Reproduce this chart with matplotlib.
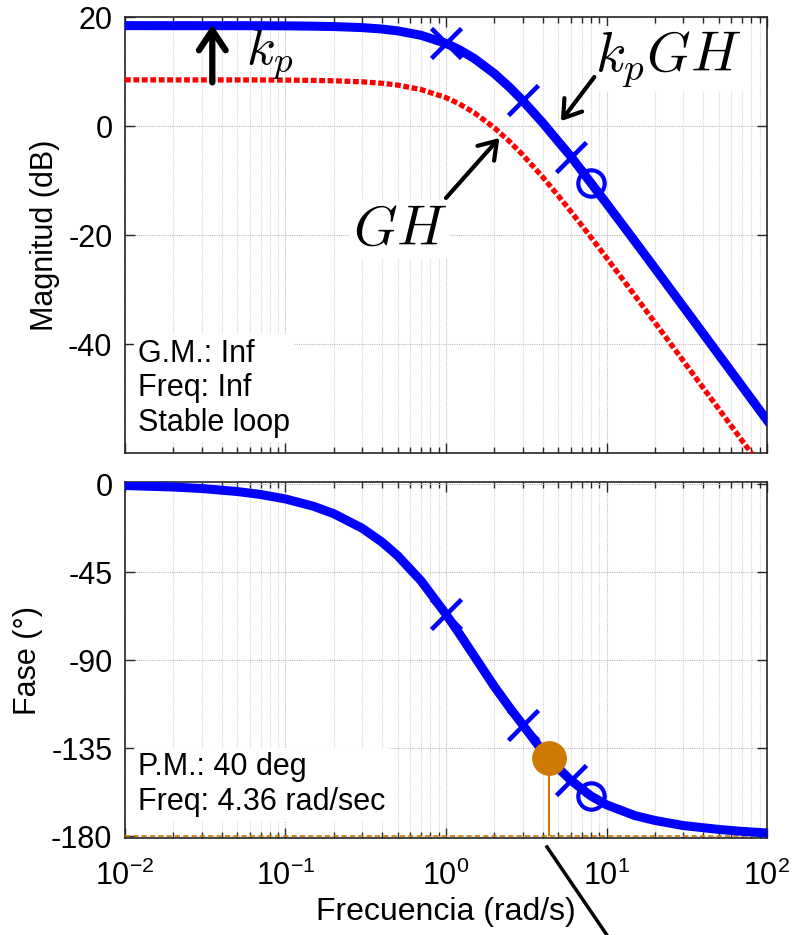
import matplotlib
matplotlib.use("Agg")
import matplotlib.pyplot as plt
from matplotlib.lines import Line2D
from matplotlib.ticker import FixedLocator, FixedFormatter, LogLocator, NullFormatter

plt.rcParams['font.family'] = ['Liberation Sans', 'DejaVu Sans']
plt.rcParams['mathtext.fontset'] = 'cm'
plt.rcParams['axes.unicode_minus'] = False

# frequency samples (rad/s) and values
freq = [0.01, 0.02, 0.03, 0.05, 0.07, 0.1, 0.15, 0.2, 0.3, 0.4, 0.5, 0.7, 1, 1.2, 1.5,
        2, 2.5, 3, 4, 5, 6, 8, 10, 15, 20, 30, 50, 70, 100]
mag_kpgh = [18.42, 18.41, 18.41, 18.41, 18.40, 18.38, 18.32, 18.25, 18.06, 17.79, 17.46,
            16.64, 15.16, 14.07, 12.39, 9.63, 7.05, 4.69, 0.60, -2.83, -5.6, -10.46,
            -14.21, -21.13, -26.08, -33.09, -41.95, -47.79, -53.98]
mag_gh = [8.47, 8.46, 8.46, 8.46, 8.45, 8.43, 8.37, 8.30, 8.11, 7.84, 7.51, 6.69, 5.21,
          4.12, 2.44, -0.32, -2.90, -5.26, -9.35, -12.78, -15.68, -20.41, -24.16, -31.08,
          -36.03, -43.04, -51.90, -57.74, -63.93]
phase = [-0.76, -1.53, -2.29, -3.82, -5.34, -7.62, -11.41, -15.17, -22.57, -29.74, -36.66,
         -49.55, -66.6, -76.0, -88.0, -103.5, -114.5, -123.0, -136.6, -145.2, -151.5,
         -159.5, -164.0, -169.5, -172.0, -174.6, -176.6, -177.6, -178.4]

# marked frequencies
x_marks = [1, 3, 6]
x_marks_mag = [15.16, 4.69, -5.6]
x_marks_phase = [-66.6, -123.0, -151.5]
o_mark = [8]
o_mark_mag = [-10.46]
o_mark_phase = [-159.5]

# phase margin
pm_freq = 4.36
pm_phase = -140

xticks = [0.01, 0.1, 1, 10, 100]
xticklabels = [r'$\mathregular{10^{-2}}$', r'$\mathregular{10^{-1}}$', r'$\mathregular{10^{0}}$',
               r'$\mathregular{10^{1}}$', r'$\mathregular{10^{2}}$']
mag_ticks = [-40, -20, 0, 20]
phase_ticks = [-180, -135, -90, -45, 0]

blue = '#0000ff'
orange = '#cc7a00'
fs = 22

fig = plt.figure(figsize=(7.96, 9.35), dpi=100)
ax1 = fig.add_axes([0.157, 0.5155, 0.8066, 0.4663])
ax2 = fig.add_axes([0.157, 0.1037, 0.8066, 0.3807])


def style(ax):
    ax.set_xscale('log')
    ax.set_xlim(0.01, 100)
    ax.xaxis.set_major_locator(FixedLocator(xticks))
    ax.xaxis.set_minor_locator(LogLocator(base=10, subs=range(2, 10), numticks=20))
    ax.xaxis.set_minor_formatter(NullFormatter())
    ax.tick_params(which='both', direction='in', top=True, right=True, labelsize=fs,
                   color='#262626', width=1)
    ax.tick_params(which='major', length=7)
    ax.tick_params(which='minor', length=4)
    ax.tick_params(axis='y', pad=9)
    ax.grid(which='major', color='#bcbcbc', linestyle=(0, (1, 1)), lw=0.8)
    ax.grid(which='minor', axis='x', color='#d4d4d4', linestyle=(0, (1, 1)), lw=0.8)
    for s in ax.spines.values():
        s.set_color('#262626')
        s.set_linewidth(1.2)
    ax.set_axisbelow(True)


style(ax1)
style(ax2)

arrow_kw = dict(arrowstyle='->,head_length=0.6,head_width=0.4', color='black',
                shrinkA=0, shrinkB=0)

# magnitude
ax1.plot(freq, mag_gh, color='red', lw=3.8, linestyle=(0, (1.1, 0.5)), zorder=3)
ax1.plot(freq, mag_kpgh, color=blue, lw=6.5, solid_joinstyle='round', zorder=4)
ax1.plot(x_marks, x_marks_mag, 'x', color=blue, ms=22, mew=3.3, zorder=5)
ax1.plot(o_mark, o_mark_mag, 'o', color=blue, mfc='none', ms=19, mew=3, zorder=5)
ax1.set_ylim(-60, 20)
ax1.yaxis.set_major_locator(FixedLocator(mag_ticks))
ax1.set_xticklabels([])
ax1.set_ylabel('Magnitud (dB)', fontsize=fs, labelpad=6)

ax1.annotate('', xy=(0.035, 18.6), xytext=(0.035, 8.0),
             arrowprops=dict(arrow_kw, lw=4.5, mutation_scale=24), zorder=6)
ax1.text(0.057, 11.4, r'$k_p$', fontsize=38, math_fontfamily='cm', ha='left', va='baseline')
ax1.annotate('', xy=(5.2, 0.9), xytext=(8.4, 9.0),
             arrowprops=dict(arrow_kw, lw=3, mutation_scale=20), zorder=6)
ax1.text(8.5, 10.2, r'$k_pGH$', fontsize=40, math_fontfamily='cm', ha='left', va='baseline',
         bbox=dict(facecolor='white', edgecolor='none', pad=2), zorder=5)
ax1.annotate('', xy=(2.15, -2.2), xytext=(1.0, -13.2),
             arrowprops=dict(arrow_kw, lw=3, mutation_scale=20), zorder=6)
ax1.text(0.262, -21.7, r'$GH$', fontsize=40, math_fontfamily='cm', ha='left', va='baseline',
         bbox=dict(facecolor='white', edgecolor='none', pad=2), zorder=5)
ax1.text(0.02, 0.035, 'G.M.: Inf\nFreq: Inf\nStable loop', transform=ax1.transAxes,
         fontsize=fs, ha='left', va='bottom', linespacing=1.2,
         bbox=dict(facecolor='white', edgecolor='none', pad=3), zorder=5)

# phase
ax2.axhline(-180, color=orange, lw=1.2, linestyle=(0, (3, 2)), zorder=3)
ax2.vlines([pm_freq], -180, pm_phase, color=orange, lw=1.5, zorder=3)
ax2.plot(freq, phase, color=blue, lw=6.5, solid_joinstyle='round', zorder=4)
ax2.plot(x_marks, x_marks_phase, 'x', color=blue, ms=22, mew=3.3, zorder=5)
ax2.plot(o_mark, o_mark_phase, 'o', color=blue, mfc='none', ms=19, mew=3, zorder=5)
ax2.plot([pm_freq], [pm_phase], 'o', color=orange, ms=24, zorder=6)
ax2.set_ylim(-181, 1)
ax2.yaxis.set_major_locator(FixedLocator(phase_ticks))
ax2.xaxis.set_major_formatter(FixedFormatter(xticklabels))
ax2.tick_params(axis='x', pad=16)
ax2.set_ylabel('Fase (°)', fontsize=fs, labelpad=6)
ax2.set_xlabel('Frecuencia (rad/s)', fontsize=23, labelpad=4)
ax2.text(0.02, 0.06, 'P.M.: 40 deg\nFreq: 4.36 rad/sec', transform=ax2.transAxes,
         fontsize=fs, ha='left', va='bottom', linespacing=1.2,
         bbox=dict(facecolor='white', edgecolor='none', pad=3), zorder=5)

# leftover pointer line below the axes
fig.add_artist(Line2D([547 / 796, 613 / 796], [1 - 847 / 935, 1 - 944 / 935],
                      transform=fig.transFigure, color='black', lw=2.5))

fig.savefig('out.png', dpi=100)
